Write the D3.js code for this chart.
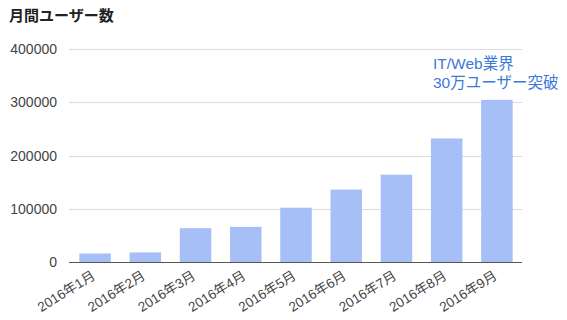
<!DOCTYPE html>
<html>
<head>
<meta charset="utf-8">
<script src="https://cdn.jsdelivr.net/npm/d3@7"></script>
<style>
  body { margin: 0; background: #fff; }
  svg { font-family: "Liberation Sans", "Noto Sans CJK JP", sans-serif; }
</style>
</head>
<body>
<svg id="chart" width="567" height="320"></svg>
<script>
// months on the x axis
var months = ['2016年1月', '2016年2月', '2016年3月', '2016年4月', '2016年5月',
              '2016年6月', '2016年7月', '2016年8月', '2016年9月'];
// monthly users
var users = [16000, 18000, 63500, 66000, 102000, 136000, 164000, 232000, 304500];
var yTicks = [0, 100000, 200000, 300000, 400000];
var note = ['IT/Web業界', '30万ユーザー突破'];

var svg = d3.select('#chart');
// plot box (note: "top" is taken by window.top)
var plotL = 70, plotR = 522, plotT = 49, plotB = 262;

var x = d3.scaleBand()
    .domain(months)
    .range([plotL, plotR])
    .paddingInner(0.373)
    .paddingOuter(0.186);

var y = d3.scaleLinear()
    .domain([0, 400000])
    .range([plotB, plotT]);

// title
svg.append('text')
    .attr('x', 9)
    .attr('y', 21)
    .attr('font-size', 15)
    .attr('font-weight', 'bold')
    .attr('fill', '#222')
    .text('月間ユーザー数');

// grid lines
svg.selectAll('.grid')
    .data(yTicks.slice(1))
    .enter().append('line')
    .attr('x1', plotL - 1).attr('x2', plotR)
    .attr('y1', d => Math.round(y(d)) + 0.5).attr('y2', d => Math.round(y(d)) + 0.5)
    .attr('stroke', '#dcdcdc');

// y labels
svg.selectAll('.ylab')
    .data(yTicks)
    .enter().append('text')
    .attr('x', 57)
    .attr('y', d => y(d) + 5)
    .attr('text-anchor', 'end')
    .attr('font-size', 14)
    .attr('fill', '#444')
    .text(d => d);

// bars
svg.selectAll('.bar')
    .data(users)
    .enter().append('rect')
    .attr('x', (d, i) => x(months[i]))
    .attr('y', d => y(d))
    .attr('width', x.bandwidth())
    .attr('height', d => plotB - y(d))
    .attr('fill', '#a7bff7');

// baseline
svg.append('line')
    .attr('x1', plotL - 1).attr('x2', plotR)
    .attr('y1', plotB + 0.5).attr('y2', plotB + 0.5)
    .attr('stroke', '#555');

// x labels, rotated
svg.selectAll('.xlab')
    .data(months)
    .enter().append('text')
    .attr('transform', d => 'translate(' + (x(d) + x.bandwidth() / 2 + 1) + ',' + (plotB + 16) + ') rotate(-32)')
    .attr('text-anchor', 'end')
    .attr('font-size', 13.5)
    .attr('fill', '#444')
    .text(d => d);

// annotation over the last bar
svg.selectAll('.note')
    .data(note)
    .enter().append('text')
    .attr('x', 433)
    .attr('y', (d, i) => 69 + i * 19)
    .attr('font-size', 15.5)
    .attr('fill', '#3c78d8')
    .text(d => d);
</script>
</body>
</html>
